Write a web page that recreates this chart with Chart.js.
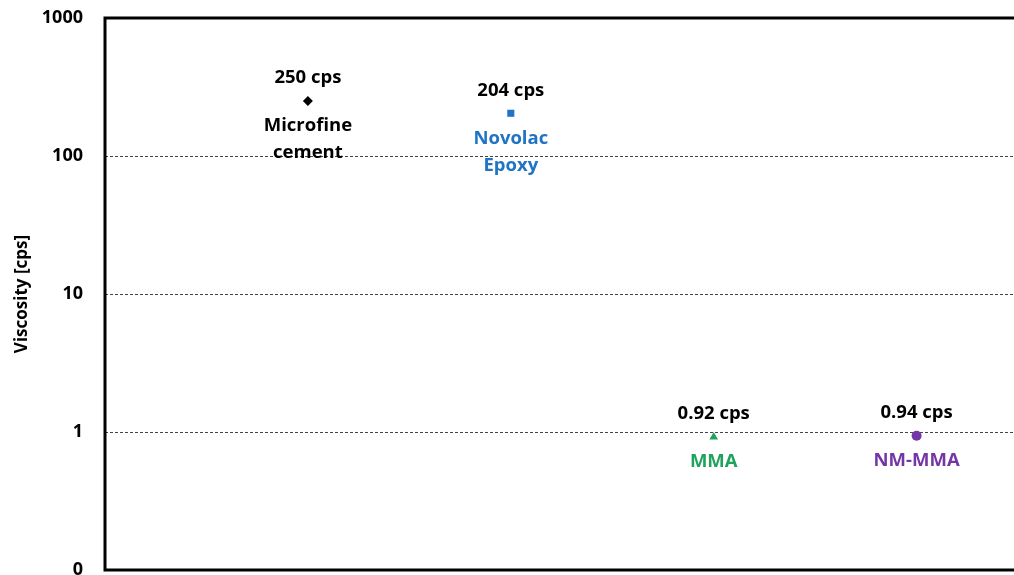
<!DOCTYPE html>
<html>
<head>
<meta charset="utf-8">
<script src="https://cdn.jsdelivr.net/npm/chart.js@4"></script>
<style>
  html, body { margin: 0; padding: 0; background: #fff; overflow: hidden; }
  #wrap { width: 1014px; height: 575px; }
</style>
</head>
<body>
<div id="wrap"><canvas id="viscChart"></canvas></div>
<script>
// data
const materials = ['Microfine cement', 'Novolac Epoxy', 'MMA', 'NM-MMA'];
const nameLines = [['Microfine', 'cement'], ['Novolac', 'Epoxy'], ['MMA'], ['NM-MMA']];
const viscosity = [250, 204, 0.92, 0.94];
const valueLabels = ['250 cps', '204 cps', '0.92 cps', '0.94 cps'];
const yTickValues = [0.1, 1, 10, 100, 1000];
const yTickLabels = ['0', '1', '10', '100', '1000'];

const colors = ['#000000', '#1f74c4', '#1fa35c', '#7436a6'];
const markers = ['rectRot', 'rect', 'triangle', 'circle'];
const radii = [5, 5, 5, 5];

const FONT = "'Open Sans', 'DejaVu Sans', sans-serif";

const datasets = materials.map((m, i) => ({
  label: m,
  data: [{ x: i + 1, y: viscosity[i] }],
  pointStyle: markers[i],
  pointRadius: radii[i],
  pointBackgroundColor: colors[i],
  pointBorderColor: colors[i],
  pointBorderWidth: 0
}));

// text around each point + frame
const annot = {
  id: 'annot',
  afterDatasetsDraw(chart) {
    const ctx = chart.ctx;
    const a = chart.chartArea;
    ctx.save();
    ctx.textAlign = 'center';
    ctx.textBaseline = 'middle';
    ctx.font = 'bold 18.5px ' + FONT;
    chart.data.datasets.forEach((ds, i) => {
      const pt = chart.getDatasetMeta(i).data[0];
      ctx.fillStyle = '#000';
      ctx.fillText(valueLabels[i], pt.x, pt.y - 23);
      ctx.fillStyle = colors[i];
      nameLines[i].forEach((ln, k) => {
        ctx.fillText(ln, pt.x, pt.y + 25 + k * 27);
      });
    });
    // frame: top, left, bottom
    ctx.strokeStyle = '#000';
    ctx.lineWidth = 3;
    ctx.beginPath();
    ctx.moveTo(a.right + 2, a.top);
    ctx.lineTo(a.left, a.top);
    ctx.lineTo(a.left, a.bottom);
    ctx.lineTo(a.right + 2, a.bottom);
    ctx.stroke();
    ctx.restore();
  }
};

new Chart(document.getElementById('viscChart'), {
  type: 'scatter',
  data: { datasets: datasets },
  plugins: [annot],
  options: {
    responsive: true,
    maintainAspectRatio: false,
    animation: false,
    layout: { autoPadding: false, padding: { top: 18, bottom: 5, left: 0, right: 0 } },
    plugins: { legend: { display: false }, tooltip: { enabled: false } },
    scales: {
      x: {
        type: 'linear',
        display: false,
        min: 0,
        max: 4.48
      },
      y: {
        type: 'logarithmic',
        min: 0.1,
        max: 1000,
        afterBuildTicks(scale) {
          scale.ticks = yTickValues.map(v => ({ value: v }));
        },
        afterFit(scale) {
          scale.width = 105;
          scale.paddingTop = 0;
          scale.paddingBottom = 0;
        },
        border: { display: false, dash: [3, 2] },
        grid: {
          drawTicks: false,
          color: ctx => (ctx.tick && (ctx.tick.value === 0.1 || ctx.tick.value === 1000)) ? 'rgba(0,0,0,0)' : '#444',
          lineWidth: 1
        },
        ticks: {
          padding: 22,
          color: '#000',
          font: { family: FONT, size: 18, weight: 'bold' },
          callback: (v) => {
            const i = yTickValues.indexOf(v);
            return i >= 0 ? yTickLabels[i] : '';
          }
        },
        title: {
          display: true,
          text: 'Viscosity [cps]',
          color: '#000',
          font: { family: FONT, size: 17, weight: 'bold' },
          padding: { top: 12, bottom: 0 }
        }
      }
    }
  }
});
</script>
</body>
</html>
